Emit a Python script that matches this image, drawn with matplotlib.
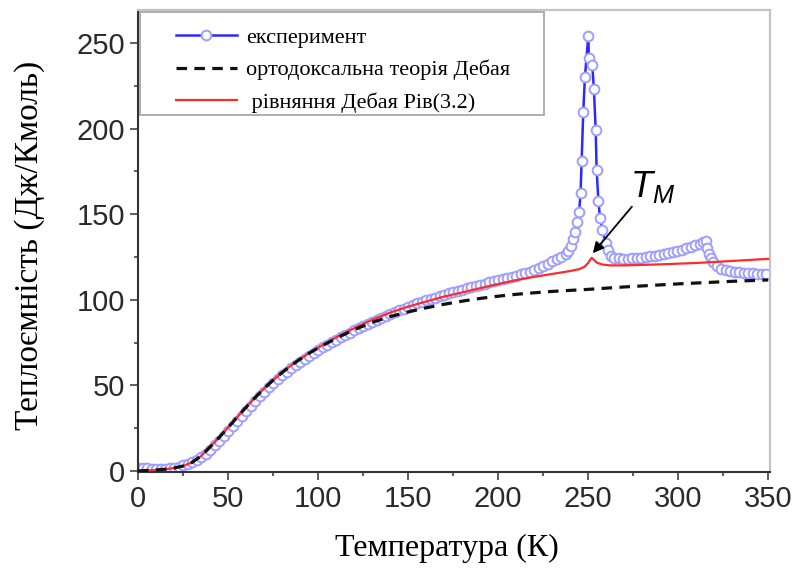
import matplotlib
matplotlib.use("Agg")
import matplotlib.pyplot as plt
from matplotlib.patches import Rectangle
from matplotlib.ticker import MultipleLocator

# ---------------- data ----------------
exp_T = [0, 2.5, 5, 7.5, 10, 12.5, 15, 17.5, 20, 22.5,
         25, 27.5, 30, 32.5, 35, 37.5, 40, 42.5, 45, 47.5,
         50, 52.5, 55, 57.5, 60, 62.5, 65, 67.5, 70, 72.5,
         75, 77.5, 80, 82.5, 85, 87.5, 90, 92.5, 95, 97.5,
         100, 102.5, 105, 107.5, 110, 112.5, 115, 117.5, 120, 122.5,
         125, 127.5, 130, 132.5, 135, 137.5, 140, 142.5, 145, 147.5,
         150, 152.5, 155, 157.5, 160, 162.5, 165, 167.5, 170, 172.5,
         175, 177.5, 180, 182.5, 185, 187.5, 190, 192.5, 195, 197.5,
         200, 202.5, 205, 207.5, 210, 212.5, 215, 217.5, 220, 222.5,
         225, 227.5, 230, 232.5, 235, 237.5, 239, 240.3, 241.5, 242.6,
         243.9, 245, 245.8, 246.4, 247.3, 248.2, 250.1, 250.4, 252.3, 253.2,
         254.2, 254.7, 255.7, 256.6, 257.9, 259.7, 261, 262.5, 264.5, 267,
         269.5, 272, 274.5, 277, 279.5, 282, 284.5, 287, 289.5, 292,
         294.5, 297, 299.5, 302, 304.5, 307, 309.5, 312, 313.8, 315.3,
         316.2, 317, 318, 319.5, 321.5, 324, 326.5, 329, 331.5, 334,
         336.5, 339, 341.5, 344, 346.5, 349]
exp_C = [1.5, 1.5, 1.5, 1.4, 1.2, 1.1, 1.2, 1.5, 2.0, 2.6,
         3.3, 4.2, 5.3, 6.6, 8.2, 10.2, 12.5, 15.0, 17.7, 20.5,
         23.3, 26.3, 29.3, 32.3, 35.2, 38.1, 40.9, 43.6, 46.2, 48.8,
         51.2, 53.6, 55.8, 58.0, 60.0, 62.0, 63.8, 65.6, 67.3, 69.0,
         70.6, 72.2, 73.8, 75.3, 76.7, 78.1, 79.5, 80.8, 82.1, 83.4,
         84.6, 85.8, 87.0, 88.2, 89.4, 90.5, 91.6, 92.7, 93.8, 94.9,
         95.9, 96.9, 97.9, 98.8, 99.7, 100.5, 101.3, 102.1, 102.9, 103.7,
         104.5, 105.3, 106.0, 106.7, 107.4, 108.1, 108.8, 109.5, 110.2, 110.8,
         111.4, 112.0, 112.7, 113.4, 114.1, 114.8, 115.6, 116.5, 117.4, 118.5,
         119.8, 121.2, 122.6, 123.8, 125.0, 126.5, 128.5, 131.5, 135.5, 139.8,
         145.6, 151.5, 162.6, 181.0, 210.0, 230.0, 254.3, 241.0, 237.0, 223.0,
         199.0, 176.0, 158.0, 147.6, 140.8, 133.0, 129.0, 125.8, 124.6, 124.2,
         124.1, 124.1, 124.2, 124.4, 124.7, 125.0, 125.3, 125.8, 126.3, 126.8,
         127.4, 128.0, 128.7, 129.3, 130.1, 130.9, 131.8, 132.8, 133.6, 134.3,
         130.5, 127.0, 124.2, 121.8, 119.6, 118.2, 117.3, 116.7, 116.3, 116.0,
         115.8, 115.6, 115.5, 115.3, 115.1, 114.9]

rev_T = [0, 5, 10, 15, 20, 25, 30, 35, 40, 45,
         50, 55, 60, 65, 70, 75, 80, 85, 90, 95,
         100, 110, 120, 130, 140, 150, 160, 170, 180, 190,
         200, 210, 220, 230, 240, 245, 248, 250, 251, 252,
         253, 255, 258, 262, 270, 280, 290, 300, 310, 320,
         330, 340, 350]
rev_C = [0, 0.3, 0.6, 1.0, 1.7, 2.9, 5.0, 8.7, 14.0, 19.5,
         25.3, 31.3, 37.2, 42.8, 48.1, 53.0, 57.5, 61.6, 65.3, 68.8,
         72.0, 78.0, 83.4, 88.3, 92.5, 96.0, 99.0, 101.9, 104.3, 106.8,
         109.2, 111.5, 113.4, 115.1, 116.8, 117.9, 119.3, 121.5, 123.2, 124.5,
         123.5, 121.6, 120.6, 120.1, 120.1, 120.4, 120.7, 121.1, 121.5, 122.1,
         122.7, 123.3, 123.9]

deb_T = [0, 5, 10, 15, 20, 25, 30, 35, 40, 45,
         50, 55, 60, 65, 70, 75, 80, 85, 90, 95,
         100, 110, 120, 130, 140, 150, 160, 170, 180, 190,
         200, 210, 220, 230, 240, 250, 260, 270, 280, 290,
         300, 310, 320, 330, 340, 350]
deb_C = [0, 0.3, 0.6, 1.0, 1.7, 2.9, 5.0, 8.7, 14.0, 19.5,
         25.3, 31.3, 37.2, 42.8, 48.1, 53.0, 57.5, 61.6, 65.3, 68.8,
         71.8, 77.5, 82.5, 86.8, 90.2, 92.9, 95.3, 97.4, 99.2, 100.8,
         102.1, 103.2, 104.1, 104.9, 105.5, 106.1, 106.8, 107.5, 108.1, 108.7,
         109.3, 109.8, 110.3, 110.8, 111.2, 111.6]

labels = ["експеримент", "ортодоксальна теорія Дебая", " рівняння Дебая Рів(3.2)"]
x_ticks = [0, 50, 100, 150, 200, 250, 300, 350]
y_ticks = [0, 50, 100, 150, 200, 250]
x_label = "Температура (К)"
y_label = "Теплоємність (Дж/Кмоль)"

# ---------------- figure ----------------
plt.rcParams["mathtext.fontset"] = "custom"
plt.rcParams["mathtext.it"] = "Liberation Sans:italic"
plt.rcParams["mathtext.rm"] = "Liberation Sans"

fig = plt.figure(figsize=(7.98, 5.80), dpi=100)
ax = fig.add_axes([138 / 798, 108 / 580, 632 / 798, 462 / 580])

l_exp, = ax.plot(exp_T, exp_C, color="#2a2aff", lw=1.8, marker="o", ms=7.0,
                 mfc="white", mec="#9e9eff", mew=1.4, zorder=2, label=labels[0])
l_rev, = ax.plot(rev_T, rev_C, color="#ff2a2a", lw=1.6, zorder=3, label=labels[2])
l_deb, = ax.plot(deb_T, deb_C, color="#111111", lw=2.3, dashes=(3.3, 2.3),
                 zorder=4, label=labels[1])

ax.set_xlim(0, 351)
ax.set_ylim(-0.6, 269.3)
ax.set_xticks(x_ticks)
ax.set_yticks(y_ticks)
ax.xaxis.set_minor_locator(MultipleLocator(25))
ax.yaxis.set_minor_locator(MultipleLocator(25))
ax.tick_params(which="major", direction="out", length=5.5, width=1.1,
               color="#333333", labelsize=21, labelcolor="#2a2a2a", pad=4)
ax.tick_params(which="minor", direction="out", length=3, width=1.1, color="#333333")
for t in ax.get_xticklabels() + ax.get_yticklabels():
    t.set_fontfamily("Liberation Sans")

for s in ["left", "bottom"]:
    ax.spines[s].set_color("#333333")
    ax.spines[s].set_linewidth(1.5)
for s in ["top", "right"]:
    ax.spines[s].set_color("#c4c4c4")
    ax.spines[s].set_linewidth(1.6)

ax.set_xlabel(x_label, fontsize=23, family="Liberation Serif")
ax.set_ylabel(y_label, fontsize=24, family="Liberation Serif")
ax.xaxis.set_label_coords(0.489, -0.133)
ax.yaxis.set_label_coords(-0.147, 0.491)

# legend (frame drawn separately to match the reference)
leg = ax.legend(handles=[l_exp, l_deb, l_rev], labels=labels, loc="upper left",
                bbox_to_anchor=(0.060, 0.963), frameon=False, borderaxespad=0,
                borderpad=0, handlelength=2.75, handletextpad=0.4,
                labelspacing=0.55, numpoints=1,
                prop={"family": "Liberation Serif", "size": 16})
ax.add_patch(Rectangle((0.0032, 0.7727), 0.6387, 0.2230, transform=ax.transAxes,
                       fill=False, edgecolor="#a8a8a8", lw=1.3, zorder=6,
                       clip_on=False))

# T_M annotation
ax.annotate("", xy=(252.6, 127.2), xytext=(274.3, 154.4),
            arrowprops=dict(arrowstyle="-|>", color="black", lw=1.3,
                            mutation_scale=16, shrinkA=0, shrinkB=0), zorder=7)
ax.text(273.5, 160, r"$T_M$", fontsize=26, ha="left", va="baseline", zorder=7)

fig.savefig("out.png", dpi=100)
